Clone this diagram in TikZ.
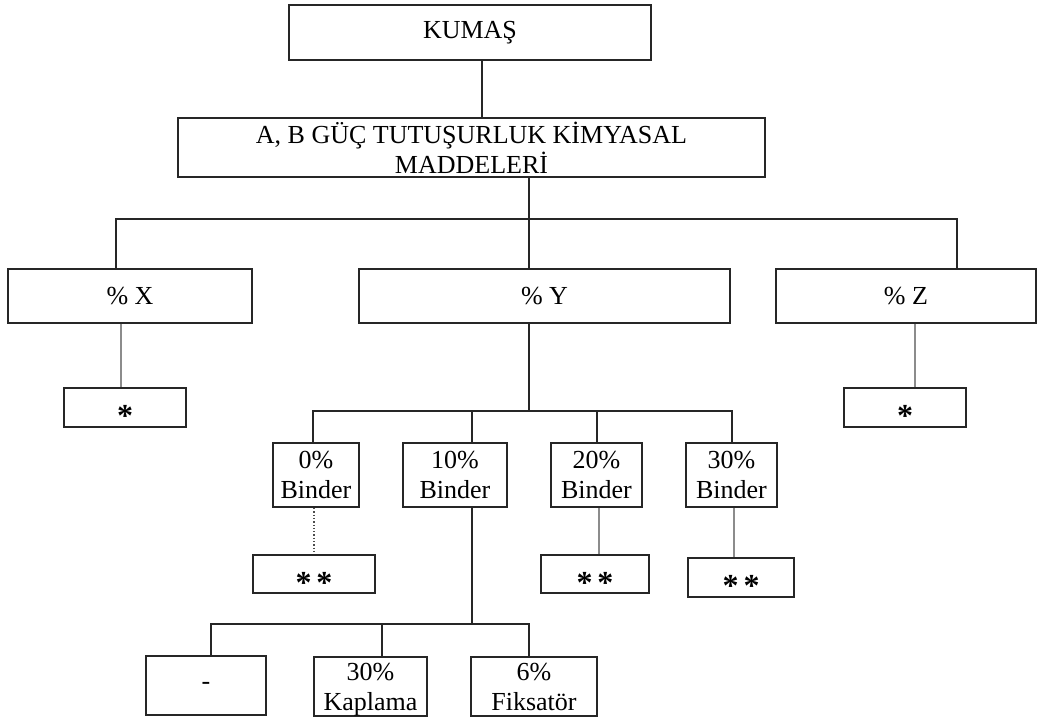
\documentclass[tikz,border=0pt]{standalone}
\usepackage{fontspec}
\setmainfont{Liberation Serif}
\usepackage{xcolor}
\usepackage{tikz}
\usetikzlibrary{positioning,calc}

\begin{document}
\begin{tikzpicture}[x=1pt, y=-1pt,
  font=\fontsize{26}{30}\selectfont,
  box/.style={draw=black!85, line width=2pt, inner sep=0pt, align=center},
  starbox/.style={box, font=\fontsize{32}{32}\selectfont\bfseries, text height=38pt, text depth=0pt},
  tree/.style={draw=black!85, line width=2pt},
  thinlink/.style={draw=black!45, line width=1.5pt},
  dotlink/.style={draw=black!70, line width=1.3pt, dotted}]
  \useasboundingbox (0,0) rectangle (1039,719);

  % Top
  \node[box, minimum width=362pt, minimum height=55pt] (kumas) at (470, 32.5) {KUMAŞ};
  \node[box, minimum width=587pt, minimum height=59pt] (ab) at (471.5, 147.5) {A, B GÜÇ TUTUŞURLUK KİMYASAL\\MADDELERİ};
  \draw[tree] ([xshift=12pt]kumas.south) -- ([xshift=12pt]kumas.south |- ab.north);

  % Percentages
  \node[box, minimum width=244pt, minimum height=54pt] (pX) at (130, 296) {\% X};
  \node[box, minimum width=371pt, minimum height=54pt] (pY) at (544.5, 296) {\% Y};
  \node[box, minimum width=260pt, minimum height=54pt] (pZ) at (906, 296) {\% Z};
  \coordinate (busA) at (529, 219);
  \draw[tree] ([xshift=-15.5pt]pY.north) -- ([xshift=-15.5pt]pY.north |- ab.south);
  \draw[tree] ([xshift=-14pt]pX.north) |- (busA) -| ([xshift=51pt]pZ.north);

  % Results for X and Z
  \node[starbox, minimum width=122pt, minimum height=39pt] (sX) at (125, 407.5) {*};
  \node[starbox, minimum width=122pt, minimum height=39pt] (sZ) at (905, 407.5) {*};
  \draw[thinlink] ([xshift=-9pt]pX.south) -- ([xshift=-9pt]pX.south |- sX.north);
  \draw[thinlink] ([xshift=9pt]pZ.south) -- ([xshift=9pt]pZ.south |- sZ.north);

  % Binder levels
  \node[box, minimum width=86pt, minimum height=64pt] (b0) at (316, 475) {0\%\\Binder};
  \node[box, minimum width=104pt, minimum height=64pt] (b10) at (455, 475) {10\%\\Binder};
  \node[box, minimum width=91pt, minimum height=64pt] (b20) at (596.5, 475) {20\%\\Binder};
  \node[box, minimum width=91pt, minimum height=64pt] (b30) at (731.5, 475) {30\%\\Binder};
  \coordinate (busB) at (529, 411);
  \draw[tree] ([xshift=-15.5pt]pY.south) -- (busB);
  \draw[tree] ([xshift=-3pt]b0.north) |- (busB) -| (b30.north);
  \draw[tree] ([xshift=17pt]b10.north) -- ([xshift=17pt]b10.north |- busB);
  \draw[tree] (b20.north) -- (b20.north |- busB);

  % Results for binders
  \node[starbox, minimum width=122pt, minimum height=38pt] (s0) at (314, 574) {*\hspace{5pt}*};
  \node[starbox, minimum width=108pt, minimum height=38pt] (s20) at (595, 574) {*\hspace{5pt}*};
  \node[starbox, minimum width=106pt, minimum height=39pt] (s30) at (741, 577.5) {*\hspace{5pt}*};
  \draw[dotlink] ([xshift=-2pt]b0.south) -- ([xshift=-2pt]b0.south |- s0.north);
  \draw[thinlink] ([xshift=2.5pt]b20.south) -- ([xshift=2.5pt]b20.south |- s20.north);
  \draw[thinlink] ([xshift=2.5pt]b30.south) -- ([xshift=2.5pt]b30.south |- s30.north);

  % Treatments under 10% binder
  \node[box, minimum width=120pt, minimum height=59pt] (none) at (206, 685.5) {-};
  \node[box, minimum width=113pt, minimum height=59pt, text depth=0pt] (kap) at (370.5, 686.5) {30\%\\Kaplama};
  \node[box, minimum width=126pt, minimum height=59pt, text depth=0pt] (fix) at (534, 686.5) {6\%\\Fiksatör};
  \coordinate (busC) at (471.5, 624);
  \draw[tree] ([xshift=16.5pt]b10.south) -- (busC);
  \draw[tree] ([xshift=5pt]none.north) |- (busC) -| ([xshift=-5pt]fix.north);
  \draw[tree] ([xshift=11.5pt]kap.north) -- ([xshift=11.5pt]kap.north |- busC);
\end{tikzpicture}
\end{document}
